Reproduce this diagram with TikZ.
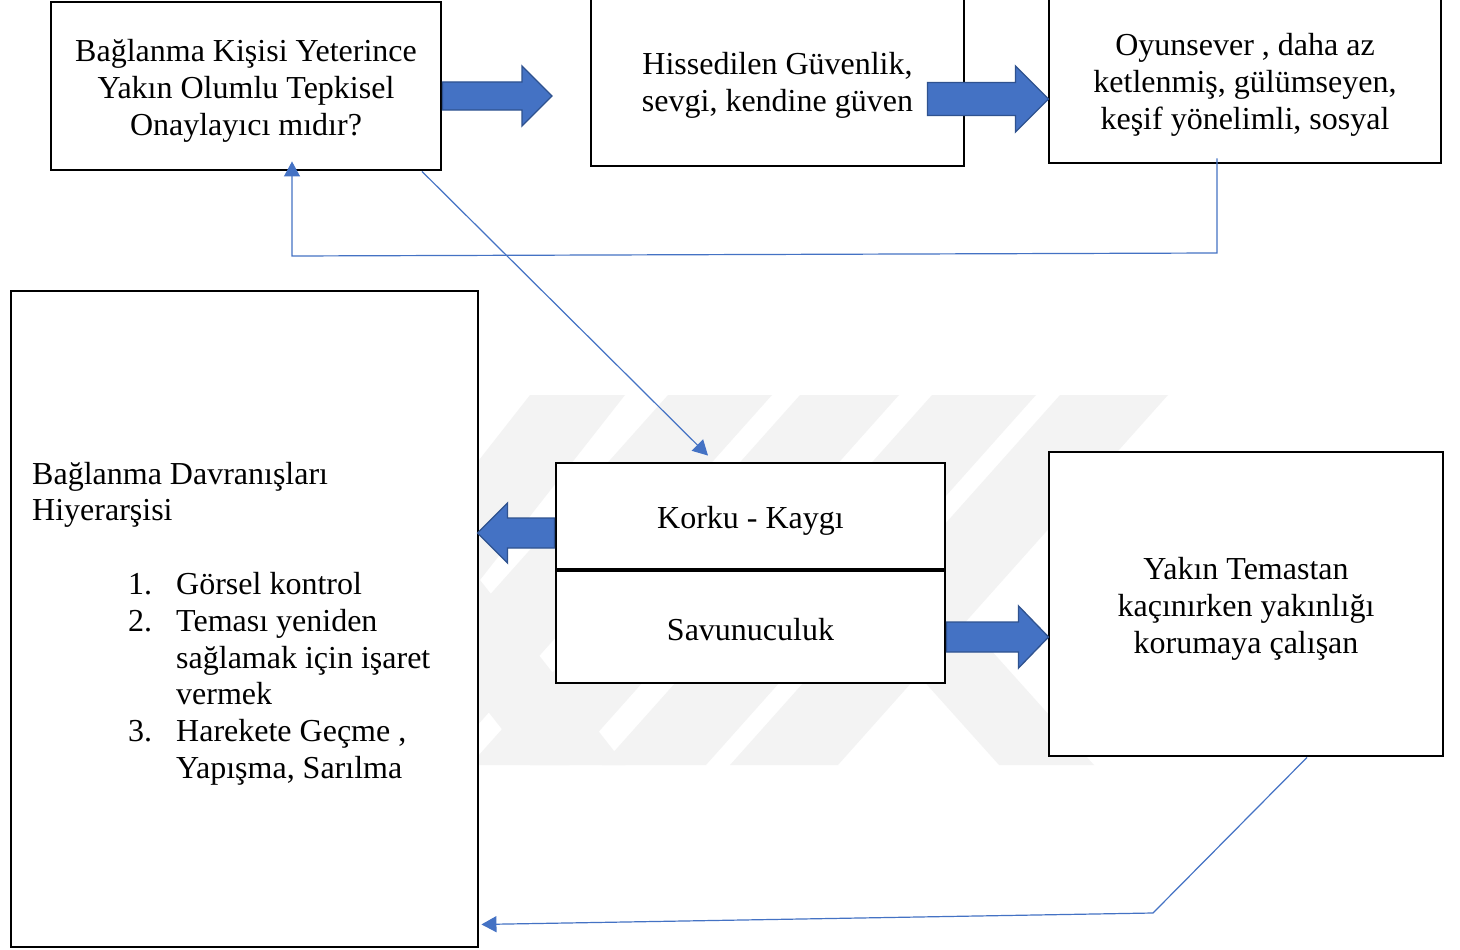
\documentclass[tikz,border=0pt]{standalone}
\usepackage{fontspec}
\setmainfont{Liberation Serif}
\usetikzlibrary{arrows.meta,calc}
\definecolor{wblue}{HTML}{4472C4}
\definecolor{wbluedark}{HTML}{2F528F}
\definecolor{wm}{HTML}{F3F3F3}
\tikzset{
  box/.style={draw=black, line width=2.9pt, fill=white, inner sep=0pt},
  txt/.style={inner sep=0pt, font=\fontsize{32}{37}\selectfont},
  ctxt/.style={txt, align=center},
  blk/.style={fill=wblue, draw=wbluedark, line width=1.3pt, line join=miter},
  thinc/.style={draw=wblue, line width=1.2pt},
  tipc/.style={-{Triangle[length=15pt,width=16pt]}},
  wmark/.style={fill=wm, draw=none},
}
\newcommand{\hblock}[5]{%
  \path[blk] let \p1=#1, \p2=#2 in
    (\x1,{\y2+#3}) -- ({\x2-(#5)},{\y2+#3}) -- ({\x2-(#5)},{\y2+#4}) -- (\x2,\y2)
    -- ({\x2-(#5)},{\y2-#4}) -- ({\x2-(#5)},{\y2-#3}) -- (\x1,{\y2-#3}) -- cycle;}
\begin{document}
\begin{tikzpicture}[x=1pt,y=-1pt]
\useasboundingbox (0,0) rectangle (1460,950);
\fill[white] (0,0) rectangle (1460,950);
% watermark
\fill[wmark] (530,395) -- (625,395) -- (480,580) -- (625,765) -- (530,765) -- (385,580) -- cycle;
\fill[wmark] (668,395) -- (772,395) -- (442,765) -- (338,765) -- cycle;
\fill[wmark] (800,395) -- (899,395) -- (569,765) -- (470,765) -- cycle;
\fill[wmark] (932,395) -- (1036,395) -- (706,765) -- (602,765) -- cycle;
\fill[wmark] (1060,395) -- (1168,395) -- (838,765) -- (730,765) -- cycle;
\fill[wmark] (851,600) -- (946,600) -- (1094,765) -- (999,765) -- cycle;
% boxes
\node[box, minimum width=390pt, minimum height=168pt] (A) at (246,86) {};
\node[box, minimum width=373pt, minimum height=170pt] (B) at (777.5,81) {};
\node[box, minimum width=392pt, minimum height=167pt] (C) at (1245,79.5) {};
\node[box, minimum width=467pt, minimum height=656pt] (D) at (244.5,619) {};
\node[box, minimum width=389pt, minimum height=106pt] (E1) at (750.5,516) {};
\node[box, minimum width=389pt, minimum height=112pt] (E2) at (750.5,627) {};
\node[box, minimum width=394pt, minimum height=304pt] (F) at (1246,604) {};
% box texts
\node[ctxt] (At) at ($(A.center)+(0,5)$) {Bağlanma Kişisi Yeterince\\Yakın Olumlu Tepkisel\\Onaylayıcı mıdır?};
\node[ctxt] (Bt) at ($(B.center)+(0,4)$) {Hissedilen Güvenlik,\\sevgi, kendine güven};
\node[ctxt] (Ct) at ($(C.center)+(0,5)$) {Oyunsever , daha az\\ketlenmiş, gülümseyen,\\keşif yönelimli, sosyal};
\node[ctxt] (E1t) at ($(E1.center)+(0,5)$) {Korku - Kaygı};
\node[ctxt] (E2t) at ($(E2.center)+(0,3)$) {Savunuculuk};
\node[ctxt] (Ft) at ($(F.center)+(0,5)$) {Yakın Temastan\\kaçınırken yakınlığı\\korumaya çalışan};
% text of D
\node[txt, anchor=base west] (d1) at (32,484) {Bağlanma Davranışları};
\node[txt, anchor=base west] (d2) at (32,520) {Hiyerarşisi};
\node[txt, anchor=base west] (n1) at (128,594) {1.};
\node[txt, anchor=base west] (i1) at (176,594) {Görsel kontrol};
\node[txt, anchor=base west] (n2) at (128,631) {2.};
\node[txt, anchor=base west] (i2a) at (176,631) {Teması yeniden};
\node[txt, anchor=base west] (i2b) at (176,668) {sağlamak için işaret};
\node[txt, anchor=base west] (i2c) at (176,704) {vermek};
\node[txt, anchor=base west] (n3) at (128,741) {3.};
\node[txt, anchor=base west] (i3a) at (176,741) {Harekete Geçme ,};
\node[txt, anchor=base west] (i3b) at (176,778) {Yapışma, Sarılma};
% block arrows
\coordinate (abTip) at (552,96);
\hblock{($(A.east)+(0,10)$)}{(abTip)}{14pt}{30pt}{30pt}
\hblock{($(B.east)+(-38,18)$)}{($(C.west)+(1,19.5)$)}{16.5pt}{33pt}{33pt}
\hblock{($(E1.west)+(0,17)$)}{($(D.east)+(-2,-86)$)}{15pt}{30pt}{-30pt}
\hblock{($(E2.east)+(0,10)$)}{($(F.west)+(1,33)$)}{15pt}{31pt}{30pt}
% thin connectors
\coordinate (fbR) at (1217,253);
\coordinate (fbL) at (292,256);
\draw[thinc, tipc] ($(C.south)+(-28,-6)$) -- (fbR) -- (fbL) -- ($(A.south)+(46,-10)$);
\draw[thinc, tipc] ($(A.south)+(176,0)$) -- ($(E1.north)+(-42.5,-6)$);
\coordinate (bk) at (1153,913);
\draw[thinc, tipc] ($(F.south)+(61,0)$) -- (bk) -- ($(D.south east)+(2,-24)$);
\end{tikzpicture}
\end{document}
